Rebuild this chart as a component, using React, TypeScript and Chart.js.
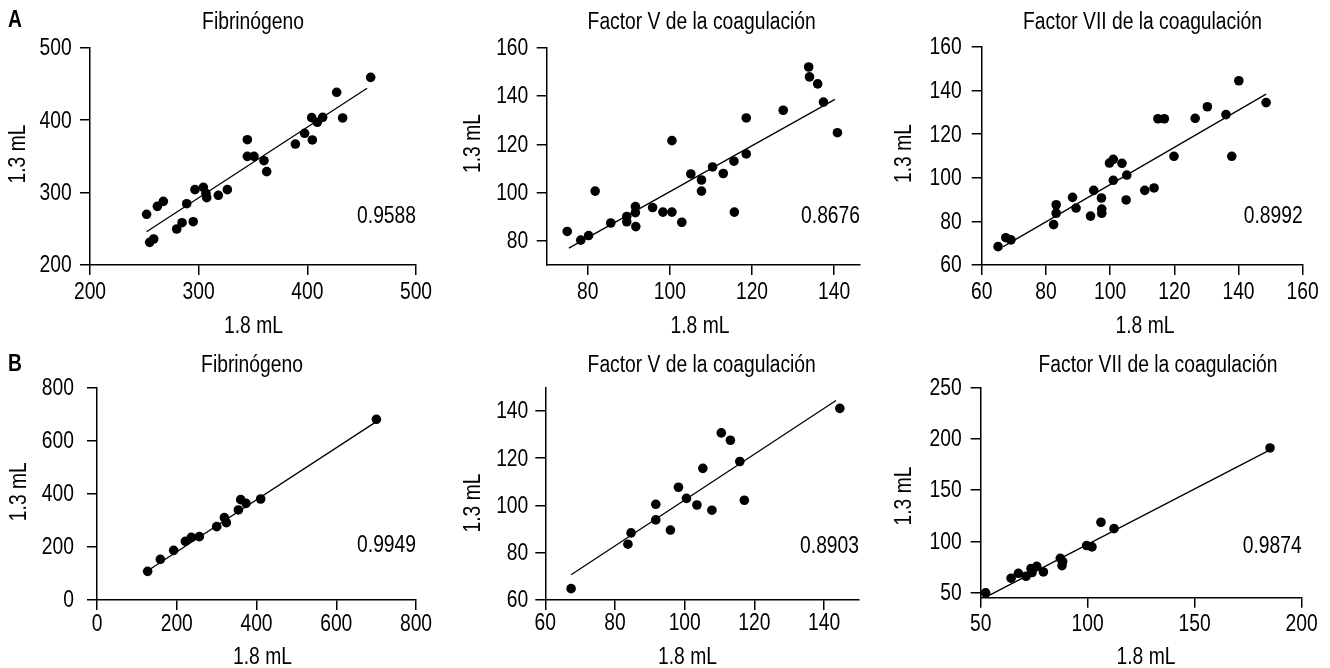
import React, { useEffect, useRef } from "react";
import { Chart, registerables } from "chart.js";

Chart.register(...registerables);

const FONT = '"Liberation Sans", Arial, sans-serif';
const FS = 23.5;
const SX = 0.82; // horizontal condensing to mimic the narrow typeface

// ---------- Panel A: Fibrinógeno ----------
const a1X = [252.1, 254.9, 258.6, 262, 267.5, 279.8, 284.7, 289, 295, 296.6, 304.3, 306.7, 307.4, 318.1, 326.4, 344.8, 344.8, 350.9, 360.1, 362.6, 389, 397.5, 404, 404.6, 409.2, 414.1, 427, 432.5, 458.3];
const a1Y = [270, 231.3, 235.9, 281, 287.9, 249.7, 258.4, 284.6, 259.8, 304, 307.2, 298.9, 293, 296.2, 304, 373, 350, 350, 344, 328.9, 367, 381.8, 403.4, 372.6, 397, 403.9, 438.4, 403, 459.1];
const a1LineX = [252, 455];
const a1LineY = [246, 444];
const a1XTicks = [200, 300, 400, 500];
const a1YTicks = [200, 300, 400, 500];

// ---------- Panel A: Factor V ----------
const a2X = [75, 78.3, 80.2, 81.8, 85.6, 89.5, 89.5, 91.6, 91.6, 91.7, 95.8, 98.3, 100.5, 100.5, 102.9, 105.1, 107.7, 107.7, 110.4, 113, 115.6, 115.7, 118.6, 118.6, 127.6, 133.8, 134, 136, 137.4, 140.8];
const a2Y = [83.9, 80.3, 82.2, 100.6, 87.4, 90.1, 87.9, 94.2, 91.7, 85.9, 93.8, 91.9, 91.9, 121.5, 87.7, 107.7, 105.2, 100.6, 110.6, 107.9, 113, 91.9, 116, 130.9, 134.1, 152, 147.9, 145, 137.5, 124.8];
const a2LineX = [75.4, 140.2];
const a2LineY = [77, 138.6];
const a2XTicks = [80, 100, 120, 140];
const a2YTicks = [80, 100, 120, 140, 160];

// ---------- Panel A: Factor VII ----------
const a3X = [65.1, 67.5, 69.1, 82.4, 83.2, 83.2, 88.3, 89.4, 93.9, 94.9, 97.3, 97.4, 97.4, 99.8, 101, 101, 103.7, 105.2, 105, 110.8, 113.7, 114.9, 116.9, 119.9, 126.5, 130.3, 136.1, 137.9, 140.1, 148.6];
const a3Y = [68.4, 72.5, 71.5, 78.5, 83.7, 87.6, 91, 86.1, 82.4, 94.2, 90.7, 85.6, 83.7, 106.7, 108.4, 98.8, 106.6, 101.2, 89.8, 94.2, 95.3, 127, 127, 109.8, 127.2, 132.5, 128.9, 109.8, 144.4, 134.4];
const a3LineX = [66.7, 148.6];
const a3LineY = [68.4, 138.3];
const a3XTicks = [60, 80, 100, 120, 140, 160];
const a3YTicks = [60, 80, 100, 120, 140, 160];

// ---------- Panel B: Fibrinógeno ----------
const b1X = [127, 158.9, 192.3, 221.6, 236.6, 256.7, 300.2, 319.4, 324.4, 354.5, 360.4, 373.7, 410.5, 700.7];
const b1Y = [107.8, 153, 186.8, 220.7, 235.7, 238.2, 275.9, 309.7, 290.9, 338.6, 377.4, 363.6, 379.9, 679.6];
const b1LineX = [127, 700.7];
const b1LineY = [110, 670.8];
const b1XTicks = [0, 200, 400, 600, 800];
const b1YTicks = [0, 200, 400, 600, 800];

// ---------- Panel B: Factor V ----------
const b2X = [67.4, 83.7, 84.6, 91.7, 91.7, 95.9, 98.2, 100.5, 103.5, 105.2, 107.8, 110.5, 113.1, 115.8, 117.1, 144.5];
const b2Y = [64.8, 83.6, 88.4, 100.5, 93.9, 89.6, 107.7, 103, 100.2, 115.7, 98, 130.7, 127.6, 118.6, 102.2, 141.1];
const b2LineX = [67.4, 143.4];
const b2LineY = [70.7, 144.4];
const b2XTicks = [60, 80, 100, 120, 140];
const b2YTicks = [60, 80, 100, 120, 140];

// ---------- Panel B: Factor VII ----------
const b3X = [52.3, 64.2, 67.6, 71.2, 73.5, 74, 76.2, 79.3, 87.2, 88.3, 88, 99.5, 102, 106.2, 112.3, 185.2];
const b3Y = [49.7, 64, 68.8, 65.9, 73.4, 69.5, 75.6, 70.1, 83.4, 80.2, 76.3, 95.8, 94.5, 118.5, 112.3, 190.9];
const b3LineX = [52.8, 185.2];
const b3LineY = [46.1, 189];
const b3XTicks = [50, 100, 150, 200];
const b3YTicks = [50, 100, 150, 200, 250];

const titles = ["Fibrinógeno", "Factor V de la coagulación", "Factor VII de la coagulación"];
const rValues = ["0.9588", "0.8676", "0.8992", "0.9949", "0.8903", "0.9874"];
const xAxisLabel = "1.8 mL";
const yAxisLabel = "1.3 mL";
const rowLetters = ["A", "B"];

type Panel = {
  xs: number[]; ys: number[]; lx: number[]; ly: number[];
  xTicks: number[]; yTicks: number[];
  xMin: number; xMax: number; yMin: number; yMax: number;
  title: string; r: string; letter?: string; letterY?: number;
  cx: number; cy: number; cw: number; ch: number;
  left: number; top: number; right: number; bottom: number;
  titleX: number; titleY: number;
  xlX: number; xlY: number; ylX: number; ylY: number; rY: number;
  xTickOff: number; yTickGap: number;
};

const panels: Panel[] = [
  { xs: a1X, ys: a1Y, lx: a1LineX, ly: a1LineY, xTicks: a1XTicks, yTicks: a1YTicks,
    xMin: 200, xMax: 500, yMin: 200, yMax: 500, title: titles[0], r: rValues[0], letter: rowLetters[0], letterY: 21,
    cx: 0, cy: 0, cw: 440, ch: 345, left: 90, top: 47.7, right: 416, bottom: 265,
    titleX: 253, titleY: 23, xlX: 253.5, xlY: 327, ylX: 19, ylY: 154, rY: 216.5, xTickOff: 27.5, yTickGap: 18.3 },
  { xs: a2X, ys: a2Y, lx: a2LineX, ly: a2LineY, xTicks: a2XTicks, yTicks: a2YTicks,
    xMin: 70, xMax: 146.3, yMin: 70, yMax: 160, title: titles[1], r: rValues[1],
    cx: 440, cy: 0, cw: 440, ch: 345, left: 546.7, top: 47.7, right: 860, bottom: 265,
    titleX: 701.7, titleY: 23, xlX: 700, xlY: 327, ylX: 473.5, ylY: 143.5, rY: 216.5, xTickOff: 27.5, yTickGap: 18.4 },
  { xs: a3X, ys: a3Y, lx: a3LineX, ly: a3LineY, xTicks: a3XTicks, yTicks: a3YTicks,
    xMin: 60, xMax: 160, yMin: 60, yMax: 160, title: titles[2], r: rValues[2],
    cx: 880, cy: 0, cw: 450, ch: 345, left: 981.7, top: 46.7, right: 1302.7, bottom: 265,
    titleX: 1142.5, titleY: 23, xlX: 1145, xlY: 327, ylX: 905, ylY: 153.5, rY: 216.5, xTickOff: 27.5, yTickGap: 20 },
  { xs: b1X, ys: b1Y, lx: b1LineX, ly: b1LineY, xTicks: b1XTicks, yTicks: b1YTicks,
    xMin: 0, xMax: 800, yMin: 0, yMax: 800, title: titles[0], r: rValues[3], letter: rowLetters[1], letterY: 365,
    cx: 0, cy: 318, cw: 440, ch: 350, left: 97, top: 387.3, right: 416, bottom: 600,
    titleX: 252, titleY: 365.5, xlX: 262.5, xlY: 658, ylX: 19.5, ylY: 491.7, rY: 546, xTickOff: 24.3, yTickGap: 23 },
  { xs: b2X, ys: b2Y, lx: b2LineX, ly: b2LineY, xTicks: b2XTicks, yTicks: b2YTicks,
    xMin: 60, xMax: 150, yMin: 60, yMax: 150, title: titles[1], r: rValues[4],
    cx: 440, cy: 318, cw: 440, ch: 350, left: 545.3, top: 387.3, right: 859, bottom: 600,
    titleX: 701.7, titleY: 366, xlX: 687.5, xlY: 658, ylX: 473.5, ylY: 503, rY: 546.5, xTickOff: 23.8, yTickGap: 17 },
  { xs: b3X, ys: b3Y, lx: b3LineX, ly: b3LineY, xTicks: b3XTicks, yTicks: b3YTicks,
    xMin: 50, xMax: 200, yMin: 45, yMax: 250, title: titles[2], r: rValues[5],
    cx: 880, cy: 318, cw: 450, ch: 350, left: 980.7, top: 387.3, right: 1301.7, bottom: 597.7,
    titleX: 1158, titleY: 366, xlX: 1146, xlY: 658, ylX: 905, ylY: 496, rY: 546.5, xTickOff: 27.3, yTickGap: 19 },
];

function drawText(ctx: CanvasRenderingContext2D, text: string, x: number, y: number, align: CanvasTextAlign, rotate = false) {
  ctx.save();
  ctx.translate(x, y);
  if (rotate) ctx.rotate(-Math.PI / 2);
  ctx.scale(SX, 1);
  ctx.textAlign = align;
  ctx.textBaseline = "middle";
  ctx.fillText(text, 0, 0);
  ctx.restore();
}

function makeAnnot(p: Panel) {
  return {
    id: "annot",
    afterDraw(chart: any) {
      const { ctx, chartArea, scales } = chart;
      ctx.save();
      ctx.fillStyle = "#000";
      ctx.font = `${FS}px ${FONT}`;
      p.xTicks.forEach((v) => {
        drawText(ctx, String(v), scales.x.getPixelForValue(v), chartArea.bottom + p.xTickOff, "center");
      });
      p.yTicks.forEach((v) => {
        drawText(ctx, String(v), chartArea.left - p.yTickGap, scales.y.getPixelForValue(v) + 1, "right");
      });
      drawText(ctx, p.title, p.titleX - p.cx, p.titleY - p.cy, "center");
      drawText(ctx, xAxisLabel, p.xlX - p.cx, p.xlY - p.cy, "center");
      drawText(ctx, yAxisLabel, p.ylX - p.cx, p.ylY - p.cy, "center", true);
      drawText(ctx, p.r, chartArea.right, p.rY - p.cy, "right");
      if (p.letter) {
        ctx.font = `bold ${FS}px ${FONT}`;
        drawText(ctx, p.letter, 15, (p.letterY || 0) - p.cy, "center");
      }
      ctx.restore();
    },
  };
}

function PanelChart({ p }: { p: Panel }) {
  const ref = useRef<HTMLCanvasElement | null>(null);
  useEffect(() => {
    if (!ref.current) return;
    const yW = p.left - p.cx;
    const xH = p.cy + p.ch - p.bottom;
    const chart = new Chart(ref.current, {
      type: "scatter",
      data: {
        datasets: [
          {
            type: "line",
            data: p.lx.map((x, i) => ({ x, y: p.ly[i] })),
            borderColor: "#000",
            borderWidth: 1.3,
            pointRadius: 0,
            fill: false,
            clip: false,
          } as any,
          {
            data: p.xs.map((x, i) => ({ x, y: p.ys[i] })),
            backgroundColor: "#000",
            borderColor: "#000",
            borderWidth: 0,
            pointRadius: 4.8,
            clip: false,
          } as any,
        ],
      },
      options: {
        responsive: false,
        animation: false,
        events: [],
        layout: {
          padding: { left: 0, bottom: 0, top: p.top - p.cy, right: p.cx + p.cw - p.right },
        },
        plugins: { legend: { display: false }, tooltip: { enabled: false }, title: { display: false } },
        scales: {
          x: {
            type: "linear",
            min: p.xMin,
            max: p.xMax,
            afterBuildTicks: (s: any) => { s.ticks = p.xTicks.map((v) => ({ value: v })); },
            afterFit: (s: any) => { s.height = xH; },
            grid: { drawOnChartArea: false, drawTicks: true, tickLength: 10, color: "#000", lineWidth: 1.5 },
            border: { display: true, color: "#000", width: 1.5 },
            ticks: { display: false },
          },
          y: {
            type: "linear",
            min: p.yMin,
            max: p.yMax,
            afterBuildTicks: (s: any) => { s.ticks = p.yTicks.map((v) => ({ value: v })); },
            afterFit: (s: any) => { s.width = yW; },
            grid: { drawOnChartArea: false, drawTicks: true, tickLength: 10, color: "#000", lineWidth: 1.5 },
            border: { display: true, color: "#000", width: 1.5 },
            ticks: { display: false },
          },
        },
      } as any,
      plugins: [makeAnnot(p)],
    });
    return () => chart.destroy();
  }, [p]);
  return (
    <canvas
      ref={ref}
      width={p.cw}
      height={p.ch}
      style={{ position: "absolute", left: p.cx, top: p.cy, width: p.cw, height: p.ch }}
    />
  );
}

export default function App() {
  return (
    <div style={{ position: "absolute", left: 0, top: 0, width: 1330, height: 668, background: "#fff" }}>
      {panels.map((p, i) => (
        <PanelChart key={i} p={p} />
      ))}
    </div>
  );
}
